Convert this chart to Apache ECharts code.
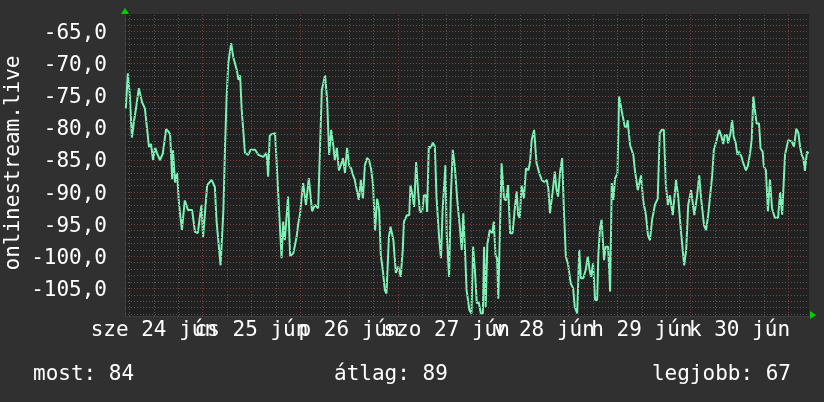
<!DOCTYPE html>
<html><head><meta charset="utf-8">
<script src="https://cdn.jsdelivr.net/npm/echarts@6/dist/echarts.min.js"></script>
<style>html,body{margin:0;padding:0;background:#303030}#c{width:824px;height:402px}</style>
</head><body><div id="c"></div>
<script>
// hours since 2020-06-24 00:00
const hours = [
5.1,5.6,6.1,6.6,7.1,7.6,8.3,9.1,9.8,10.3,
10.8,11.3,11.8,12.3,12.8,13.5,14.2,15.0,15.5,16.0,
16.5,16.7,17.2,17.7,18.2,18.9,19.6,20.4,21.4,22.1,
22.8,23.7,24.1,25.1,26.2,27.0,27.4,28.4,29.1,29.5,
29.9,30.3,31.0,31.5,32.4,32.8,33.2,33.6,34.4,35.2,
35.8,36.9,37.7,38.9,39.7,40.1,40.5,41.8,42.4,43.4,
43.8,44.2,45.0,45.5,46.3,47.1,47.5,47.9,48.7,49.4,
50.1,50.9,51.6,52.4,53.3,54.1,54.6,55.1,55.6,56.1,
56.5,57.0,57.5,58.0,58.5,59.0,59.5,60.0,60.5,61.0,
61.4,61.9,62.4,62.9,63.4,63.9,64.4,64.9,65.4,65.9,
66.4,66.9,67.4,67.8,68.3,68.8,69.2,69.8,70.2,70.9,
71.5,72.1,72.7,73.2,73.5,74.2,74.8,75.1,75.6,76.0,
76.5,76.9,77.4,78.0,78.4,78.9,79.2,79.6,80.1,80.6,
81.1,81.5,82.1,82.6,83.0,83.7,84.0,84.6,85.0,85.5,
86.0,86.6,87.3,87.7,88.1,88.5,88.9,89.6,90.1,90.5,
91.0,91.4,91.9,92.4,92.9,93.2,93.6,94.0,94.6,95.2,
95.6,96.0,96.4,96.7,97.1,97.5,98.1,98.6,99.1,99.6,
100.2,100.8,101.2,101.6,102.0,102.4,103.0,103.5,104.1,104.5,
104.9,105.5,106.1,106.8,107.4,107.9,108.6,109.0,109.4,109.8,
110.2,110.6,111.0,111.4,111.9,112.4,112.8,113.3,113.9,114.5,
115.1,115.5,116.1,116.6,117.0,117.6,118.2,118.7,119.1,119.5,
120.0,120.5,121.0,121.3,121.7,122.1,122.7,123.1,123.7,124.2,
124.6,125.0,125.4,126.0,126.4,127.0,127.4,127.8,128.3,128.5,
128.9,129.1,129.5,129.9,130.3,131.0,131.8,132.3,133.0,133.5,
134.0,134.5,135.2,135.9,136.4,136.9,137.4,137.9,138.4,138.9,
139.6,140.4,140.9,141.6,142.4,142.9,143.4,144.1,144.9,145.6,
146.1,146.6,147.3,147.8,148.3,148.8,149.3,149.7,150.4,151.0,
151.6,152.0,152.4,152.9,153.2,153.8,154.2,154.6,155.1,155.5,
155.9,156.5,157.1,157.6,158.1,158.6,159.0,159.4,159.8,160.2,
160.8,161.2,161.7,162.0,162.5,163.0,163.5,164.0,164.7,165.5,
166.0,166.5,167.2,168.0,168.8,169.4,170.0,170.5,170.9,171.3,
171.7,172.1,172.6,173.0
];
const signal = [
-77,-71.5,-75,-81.5,-79,-77,-73.8,-76,-77,-80,
-83,-82.5,-85,-83,-84,-85,-84,-80.2,-80.5,-81,
-88,-83.5,-88.5,-87,-92,-95.9,-91.3,-92.8,-92.8,-96.2,
-96.4,-92,-97,-88.9,-88.1,-89.2,-94.4,-101.4,-92.8,-82.9,
-75.1,-69.9,-66.8,-68.9,-71,-72.5,-71.8,-77.2,-83.9,-84.2,
-83.4,-83.4,-84.2,-84.5,-83.9,-87.6,-81.1,-80.8,-88,-100.3,
-94.6,-97.5,-90.7,-100,-99.5,-97,-94.9,-93.6,-88.6,-92,
-87.8,-93,-92,-92.5,-74.1,-71.8,-75.6,-84.2,-80.3,-82.7,
-85,-83.1,-86.6,-85.8,-84.7,-87,-83.1,-85.8,-86.3,-87.4,
-88.1,-89.7,-91.2,-88.1,-91,-85.8,-84.7,-85,-86.3,-88.9,
-96,-91,-92.8,-99.8,-102.2,-105.3,-105.8,-97,-95.4,-97.5,
-102.6,-101.6,-103.2,-99,-94.6,-93.6,-93.6,-88.9,-90.5,-92.3,
-85.3,-89.2,-93.1,-93,-90.5,-90.5,-93.1,-82.9,-83.1,-82.3,
-82.9,-90.7,-96.7,-100.3,-92.8,-85.8,-96.4,-103.2,-91.2,-83.4,
-86,-91.2,-95.9,-99,-93.3,-99,-105.3,-108.4,-108.9,-98.5,
-102.7,-107.3,-107.2,-108.9,-108.9,-98.5,-107.9,-98.2,-95.9,-96.4,
-94.6,-99.8,-100.3,-106.6,-95.9,-85.5,-91,-91.3,-88.9,-96.4,
-96.4,-92.3,-89.9,-93.6,-94,-88.9,-91,-86.3,-86.6,-85.3,
-81.9,-80.3,-85.5,-87.1,-88.1,-88.4,-88.1,-89.4,-93.3,-93,
-89.2,-86.8,-89.6,-90.7,-86.8,-84.7,-92.3,-100,-101.4,-104.2,
-105,-107.9,-108.9,-99,-103.4,-103.4,-102.1,-100,-101.9,-103.2,
-101.1,-106.8,-106.8,-99.8,-95.6,-94.3,-100.6,-98.5,-98.5,-105.5,
-88.6,-91.2,-87.9,-87.1,-75.1,-77.2,-77.2,-79.8,-79.8,-78.8,
-78.8,-82.7,-82.9,-84.2,-86.6,-89.7,-87.4,-91.2,-93.6,-96.7,
-97.5,-94.4,-92,-91,-80.8,-80.3,-80.3,-88.9,-92,-90.5,
-93.6,-88.1,-90.5,-96,-101.4,-99,-92,-89.7,-93.6,-90.5,
-87.4,-91.2,-95.2,-95.9,-93.6,-90.5,-87.4,-83.4,-81.9,-80.3,
-81.4,-82.5,-81.1,-81.1,-82.4,-80.8,-78.8,-81.4,-82.4,-84.2,
-83.7,-84.5,-85.8,-86.6,-85.8,-84,-81.9,-75.1,-75.1,-79.3,
-79.3,-83.2,-83.7,-86,-86.6,-93,-88,-92.5,-94,-94,
-90,-93.5,-84.2,-81.9,-82.1,-82.9,-80.1,-80.8,-82.9,-84.2,
-84.7,-86.7,-83.7,-84
];
const dayLabels = ['sze 24 jún', 'cs 25 jún', 'p 26 jún', 'szo 27 jún', 'v 28 jún', 'h 29 jún', 'k 30 jún'];
const dayLabelHours = [12, 36, 60, 84, 108, 132, 156];
const yLabelValues = [-105, -100, -95, -90, -85, -80, -75, -70, -65];
const axisTitle = 'onlinestream.live';
const summaryTexts = ['most: 84', 'átlag: 89', 'legjobb: 67'];

const X_MIN = 4.9, X_MAX = 173.1, Y_MIN = -109.3, Y_MAX = -62.25;
const FONT = 'DejaVu Sans Mono';
const FS = 21;
const GREY = '#565656', RED = '#7e3e3e';

const data = hours.map((h, i) => [h, signal[i]]);

const gridLines = [];
for (let v = -109; v <= -63; v++) {
  const major = (v % 5 === 0);
  const item = { yAxis: v, lineStyle: { color: major ? RED : GREY, type: [1, 2], width: 1 }, label: { show: false } };
  if (yLabelValues.indexOf(v) >= 0) {
    item.label = { show: true, position: 'start', distance: 18, offset: [0, 2], color: '#ffffff', fontFamily: FONT, fontSize: FS,
      formatter: () => v.toFixed(1).replace('.', ',') };
  }
  gridLines.push(item);
}
for (let h = 6; h <= 172; h += 6) {
  const major = (h % 24 === 0);
  const item = { xAxis: h, lineStyle: { color: major ? RED : GREY, type: [1, 2], width: 1 }, label: { show: false } };
  const li = dayLabelHours.indexOf(h);
  if (li >= 0) {
    item.label = { show: true, position: 'start', distance: 4, color: '#ffffff', fontFamily: FONT, fontSize: FS,
      formatter: () => dayLabels[li] };
  }
  gridLines.push(item);
}

const chart = echarts.init(document.getElementById('c'), null, { renderer: 'canvas' });
chart.setOption({
  animation: false,
  backgroundColor: '#303030',
  grid: { left: 125, right: 15, top: 14, bottom: 86, show: true, backgroundColor: '#212121', borderWidth: 0 },
  xAxis: { type: 'value', min: X_MIN, max: X_MAX, axisLabel: { show: false }, axisTick: { show: false },
    splitLine: { show: false }, axisLine: { show: true, lineStyle: { color: '#3c3c3c' } } },
  yAxis: { type: 'value', min: Y_MIN, max: Y_MAX, axisLabel: { show: false }, axisTick: { show: false },
    splitLine: { show: false }, axisLine: { show: true, lineStyle: { color: '#3c3c3c' } } },
  series: [
    { type: 'line', z: 1, data: data, showSymbol: false, silent: true, clip: false,
      lineStyle: { opacity: 0 },
      markLine: { silent: true, symbol: ['none', 'none'], animation: false, data: gridLines } },
    { type: 'line', z: 3, data: data, showSymbol: false, silent: true,
      lineStyle: { color: '#7ef2b6', width: 2 } }
  ],
  graphic: [
    { type: 'text', x: 14, y: 163, rotation: Math.PI / 2,
      style: { text: axisTitle, fill: '#ffffff', font: FS + 'px "' + FONT + '"', textAlign: 'center', textVerticalAlign: 'middle' } },
    { type: 'text', x: 33, y: 375,
      style: { text: summaryTexts[0], fill: '#ffffff', font: FS + 'px "' + FONT + '"', textAlign: 'left', textVerticalAlign: 'middle' } },
    { type: 'text', x: 334, y: 375,
      style: { text: summaryTexts[1], fill: '#ffffff', font: FS + 'px "' + FONT + '"', textAlign: 'left', textVerticalAlign: 'middle' } },
    { type: 'text', x: 791, y: 375,
      style: { text: summaryTexts[2], fill: '#ffffff', font: FS + 'px "' + FONT + '"', textAlign: 'right', textVerticalAlign: 'middle' } },
    { type: 'polygon', shape: { points: [[121, 14], [129, 14], [125, 8]] }, style: { fill: '#00d000' } },
    { type: 'polygon', shape: { points: [[810, 311], [810, 319], [816, 315]] }, style: { fill: '#00d000' } }
  ]
});
</script></body></html>
